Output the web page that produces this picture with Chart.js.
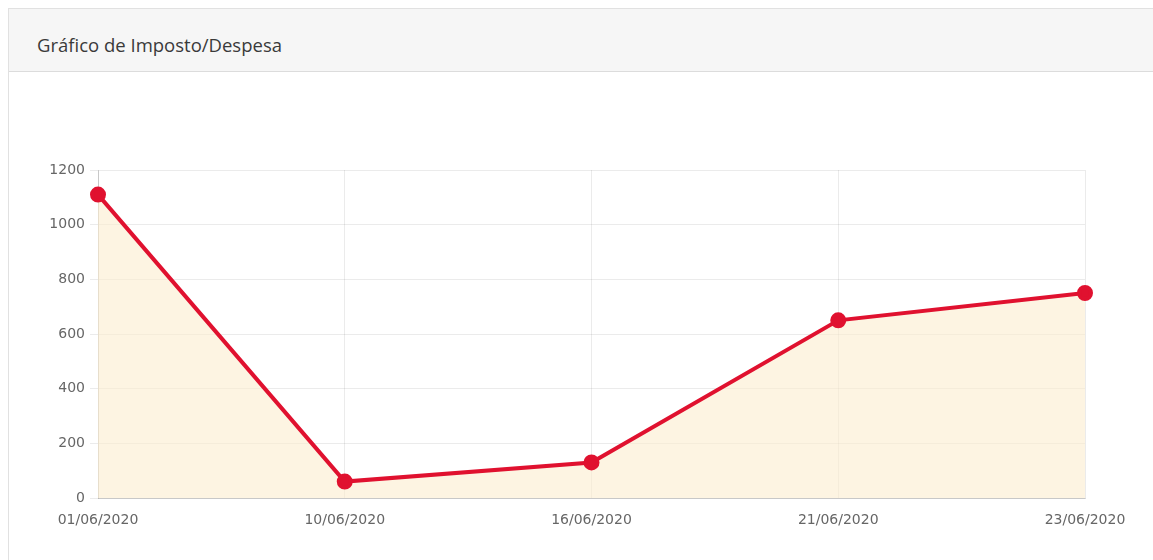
<!DOCTYPE html>
<html lang="pt-BR">
<head>
<meta charset="utf-8">
<title>Gráfico de Imposto/Despesa</title>
<script src="https://cdn.jsdelivr.net/npm/chart.js@4/dist/chart.umd.min.js"></script>
<style>
  body { margin: 0; background: #fff; width: 1153px; height: 560px; overflow: hidden; }
  .card {
    position: absolute; left: 8px; top: 8px; width: 1160px; height: 600px;
    border: 1px solid #e1e1e1; background: #fff;
  }
  .card-header {
    height: 63px; background: #f6f6f6; border-bottom: 1px solid #dcdcdc;
    font-family: "Open Sans", sans-serif; font-size: 18.5px; color: #3a3a3a;
    line-height: 70px; padding-left: 28px; box-sizing: border-box;
  }
  .grafico { position: absolute; left: 12px; top: 141px; width: 1120px; height: 390px; }
</style>
</head>
<body>
<div class="card">
  <div class="card-header" style="line-height:72px;font-size:18.5px">Gráfico de Imposto/Despesa</div>
  <div class="grafico"><canvas id="graficoImposto"></canvas></div>
</div>
<script>
// datas e valores do período
const datas = ['01/06/2020', '10/06/2020', '16/06/2020', '21/06/2020', '23/06/2020'];
const valores = [1110, 60, 130, 650, 750];
const ticksY = [0, 200, 400, 600, 800, 1000, 1200];

Chart.defaults.font.family = '"DejaVu Sans", Arial, sans-serif';
Chart.defaults.color = '#666';

const ctx = document.getElementById('graficoImposto');
new Chart(ctx, {
  type: 'line',
  data: {
    labels: datas,
    datasets: [{
      label: 'Imposto/Despesa',
      data: valores,
      borderColor: '#e0112f',
      backgroundColor: 'rgba(252, 236, 206, 0.6)',
      borderWidth: 4,
      fill: true,
      tension: 0,
      pointRadius: 6,
      pointBackgroundColor: '#e0112f',
      pointBorderColor: '#e0112f'
    }]
  },
  options: {
    responsive: true,
    maintainAspectRatio: false,
    animation: false,
    layout: { padding: { top: 20, right: 56, left: 0, bottom: 0 } },
    plugins: { legend: { display: false }, tooltip: { enabled: false } },
    scales: {
      x: {
        offset: false,
        grid: { color: 'rgba(0,0,0,0.08)', drawTicks: false },
        border: { color: 'rgba(0,0,0,0.15)' },
        ticks: { padding: 14, maxRotation: 0, font: { size: 14 } },
        afterFit: function(scale) { scale.height = 42; }
      },
      y: {
        min: 0,
        max: 1200,
        grid: { color: 'rgba(0,0,0,0.08)', tickLength: 8 },
        border: { color: 'rgba(0,0,0,0.15)' },
        ticks: { stepSize: 200, padding: 5, font: { size: 14 },
          callback: function(v) { return ticksY.includes(v) ? v : ''; } },
        afterFit: function(scale) { scale.width = 77; }
      }
    }
  }
});
</script>
</body>
</html>
